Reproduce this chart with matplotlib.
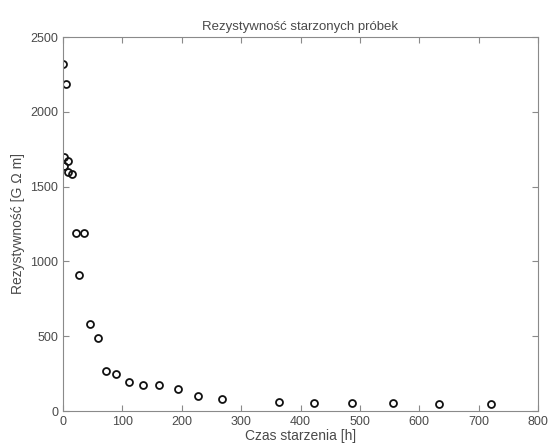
import numpy as np
import matplotlib
matplotlib.use("Agg")
import matplotlib.pyplot as plt

plt.rcParams['font.family'] = ['Liberation Sans', 'DejaVu Sans']

# czas starzenia [h] i rezystywnosc [G Ohm m]
czas = [0.5, 5, 1, 9, 1, 8, 15, 22, 36, 27, 46, 59, 73, 90, 111, 135, 161, 193,
        227, 267, 363, 422, 486, 556, 634, 720]
rezyst = [2321, 2187, 1698, 1669, 1640, 1596, 1587, 1191, 1191, 912, 583, 490,
          267, 245, 196, 174, 174, 150, 103, 83, 63, 56, 56, 56, 45, 45]

xticks = [0, 100, 200, 300, 400, 500, 600, 700, 800]
yticks = [0, 500, 1000, 1500, 2000, 2500]

gray = '#8a8a8a'
txt = '#4a4a4a'

fig = plt.figure(figsize=(5.49, 4.47), dpi=100)
ax = fig.add_axes([63/549, 1 - 411/447, 475/549, 374/447])

ax.plot(czas, rezyst, 'o', mfc='none', mec='#111111', ms=5, mew=1.3)

ax.set_xlim(0, 800)
ax.set_ylim(0, 2500)
ax.set_xticks(xticks)
ax.set_yticks(yticks)
ax.tick_params(direction='in', top=True, right=True, colors=gray,
               labelcolor=txt, labelsize=9, length=4)
for s in ax.spines.values():
    s.set_color(gray)

ax.set_title('Rezystywność starzonych próbek', fontsize=9.5, color=txt, pad=5)
ax.set_xlabel('Czas starzenia [h]', fontsize=10, color=txt, labelpad=1)
ax.set_ylabel('Rezystywność [G Ω m]', fontsize=10, color=txt, labelpad=4)

fig.savefig('out.png', dpi=100)
